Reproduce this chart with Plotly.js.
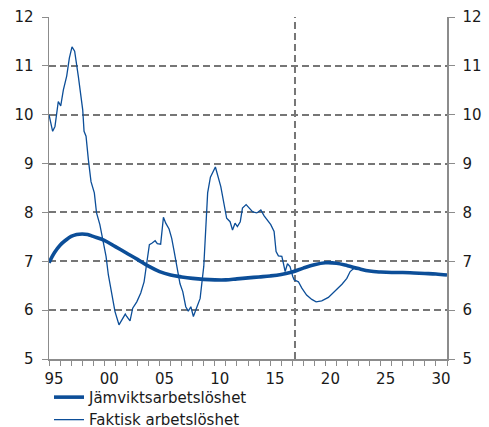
<!DOCTYPE html>
<html><head><meta charset="utf-8">
<script src="https://cdn.plot.ly/plotly-3.0.1.min.js"></script>
<style>html,body{margin:0;padding:0;background:#fff}</style>
</head><body><div id="chart" style="width:489px;height:427px"></div>
<script>
// Equilibrium unemployment (Jämviktsarbetslöshet)
const eqYears = [1995, 1995.5, 1996, 1996.5, 1997, 1997.5, 1998, 1998.5, 1999, 2000, 2001, 2002, 2003, 2004, 2005, 2006, 2007, 2008, 2009, 2010, 2011, 2012, 2013, 2014, 2015, 2016, 2017, 2018, 2019, 2020, 2021, 2022, 2023, 2024, 2025, 2026, 2027, 2028, 2029, 2030, 2031];
const eqValues = [6.97, 7.18, 7.33, 7.43, 7.51, 7.55, 7.56, 7.55, 7.51, 7.43, 7.30, 7.17, 7.04, 6.90, 6.79, 6.72, 6.68, 6.65, 6.63, 6.62, 6.62, 6.64, 6.66, 6.68, 6.70, 6.73, 6.78, 6.86, 6.93, 6.97, 6.96, 6.91, 6.85, 6.80, 6.78, 6.77, 6.77, 6.76, 6.75, 6.74, 6.72];

// Actual unemployment (Faktisk arbetslöshet)
const actYears = [1995.0, 1995.33, 1995.54, 1995.84, 1996.06, 1996.3, 1996.6, 1996.84, 1997.08, 1997.32, 1997.65, 1998.05, 1998.17, 1998.35, 1998.56, 1998.8, 1999.1, 1999.3, 1999.6, 1999.9, 2000.16, 2000.37, 2000.67, 2000.97, 2001.33, 2001.58, 2001.9, 2002.03, 2002.33, 2002.57, 2002.94, 2003.3, 2003.6, 2003.84, 2004.08, 2004.3, 2004.6, 2004.8, 2005.1, 2005.35, 2005.56, 2005.86, 2006.1, 2006.3, 2006.56, 2006.85, 2007.1, 2007.37, 2007.6, 2007.83, 2008.06, 2008.37, 2008.67, 2009.0, 2009.2, 2009.35, 2009.6, 2010.05, 2010.54, 2010.77, 2010.93, 2011.07, 2011.38, 2011.6, 2011.83, 2012.04, 2012.3, 2012.5, 2012.83, 2013.13, 2013.43, 2013.8, 2014.16, 2014.46, 2014.7, 2015.06, 2015.36, 2015.54, 2015.75, 2016.06, 2016.2, 2016.36, 2016.57, 2016.8, 2017.05, 2017.17, 2017.56, 2017.87, 2018.3, 2018.77, 2019.16, 2019.67, 2020.27, 2020.88, 2021.5, 2021.94, 2022.24, 2022.7];
const actValues = [10.0, 9.66, 9.76, 10.27, 10.18, 10.51, 10.79, 11.16, 11.39, 11.30, 10.79, 10.10, 9.66, 9.56, 9.08, 8.63, 8.40, 7.99, 7.75, 7.44, 7.10, 6.72, 6.31, 5.97, 5.70, 5.80, 5.92, 5.87, 5.78, 6.04, 6.17, 6.35, 6.58, 6.96, 7.34, 7.37, 7.42, 7.36, 7.35, 7.90, 7.78, 7.66, 7.47, 7.23, 6.88, 6.54, 6.38, 6.07, 5.98, 6.07, 5.87, 6.07, 6.24, 6.90, 7.70, 8.40, 8.72, 8.93, 8.53, 8.26, 8.02, 7.88, 7.81, 7.64, 7.78, 7.71, 7.81, 8.09, 8.16, 8.09, 8.01, 7.99, 8.05, 7.93, 7.85, 7.75, 7.61, 7.20, 7.11, 7.10, 6.96, 6.79, 6.95, 6.89, 6.69, 6.62, 6.58, 6.45, 6.31, 6.22, 6.17, 6.19, 6.26, 6.39, 6.53, 6.65, 6.79, 6.88];

const seriesNames = ['Jämviktsarbetslöshet', 'Faktisk arbetslöshet'];
const tickYears = [1995, 2000, 2005, 2010, 2015, 2020, 2025, 2030];
const tickLabels = ['95', '00', '05', '10', '15', '20', '25', '30'];
const yTicks = [5, 6, 7, 8, 9, 10, 11, 12];
const forecastStart = 2017.25;
const xStart = 1995, xEnd = 2031;

const lineColor = '#0c4e98';
const axisGray = '#8c8c8c';
const gridGray = '#767676';
const txt = '#1a1a1a';
const font = 'DejaVu Sans, Verdana, sans-serif';

// yearly tick marks; labels only on every fifth year
const yearTicks = [];
const yearText = [];
for (let y = xStart; y <= xEnd; y++) {
  yearTicks.push(y);
  const i = tickYears.indexOf(y);
  yearText.push(i >= 0 ? tickLabels[i] : '');
}

const traces = [
  {x: eqYears, y: eqValues, name: seriesNames[0], type: 'scatter', mode: 'lines',
   line: {color: lineColor, width: 3.6, shape: 'spline', smoothing: 1}},
  {x: actYears, y: actValues, name: seriesNames[1], type: 'scatter', mode: 'lines',
   line: {color: lineColor, width: 1.3}},
  // invisible copy so the right-hand axis is drawn
  {x: eqYears, y: eqValues, yaxis: 'y2', type: 'scatter', mode: 'lines', showlegend: false,
   hoverinfo: 'skip', line: {color: 'rgba(0,0,0,0)', width: 0}}
];

const yCommon = {
  range: [5, 12], tickmode: 'array', tickvals: yTicks,
  ticks: 'outside', ticklen: 6, tickcolor: axisGray, tickwidth: 1,
  showline: true, linecolor: axisGray, linewidth: 1.5, ticklabelstandoff: 5,
  tickfont: {family: font, size: 15, color: txt}, zeroline: false, fixedrange: true
};

const layout = {
  width: 489, height: 427,
  margin: {l: 49, r: 42, t: 17, b: 68},
  paper_bgcolor: '#fff', plot_bgcolor: '#fff',
  showlegend: true,
  legend: {x: 0, xanchor: 'left', yref: 'container', y: 0.108, yanchor: 'top', orientation: 'v',
           font: {family: font, size: 15, color: txt}, bgcolor: 'rgba(0,0,0,0)', tracegroupgap: 0},
  xaxis: {
    range: [xStart, xEnd], tickmode: 'array',
    tickvals: yearTicks, ticktext: yearText, ticklabelshift: 5,
    ticks: 'outside', ticklen: 5, tickwidth: 1, tickcolor: axisGray,
    showline: true, linecolor: axisGray, linewidth: 1.5,
    showgrid: false, zeroline: false,
    tickfont: {family: font, size: 15, color: txt}
  },
  yaxis: Object.assign({}, yCommon, {side: 'left', showgrid: true, gridcolor: gridGray, gridwidth: 2, griddash: '7px,4px'}),
  yaxis2: Object.assign({}, yCommon, {side: 'right', overlaying: 'y', showgrid: false}),
  shapes: [{type: 'line', xref: 'x', yref: 'paper', x0: forecastStart, x1: forecastStart, y0: 0, y1: 1,
            line: {color: gridGray, width: 2, dash: '7px,4px'}, layer: 'below'}]
};

Plotly.newPlot('chart', traces, layout, {displayModeBar: false, staticPlot: true});
</script></body></html>
